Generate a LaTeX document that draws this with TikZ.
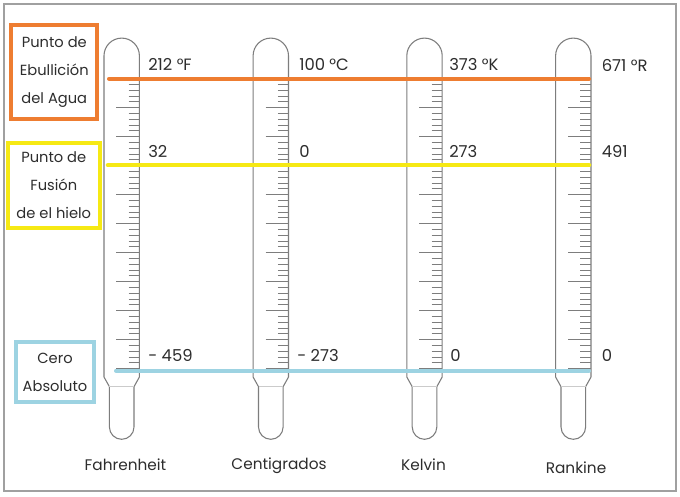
\documentclass[tikz,border=0pt]{standalone}
\usepackage{fontspec}
\setmainfont{Poppins}
\definecolor{ora}{RGB}{238,125,49}
\definecolor{yel}{RGB}{246,233,20}
\definecolor{cya}{RGB}{157,211,226}
\definecolor{thc}{RGB}{125,125,125}
\definecolor{txt}{RGB}{45,45,45}
\definecolor{frc}{RGB}{160,160,160}
\tikzset{
  thermo/.style={draw=thc, line width=0.8pt},
  tick/.style={draw=thc, line width=0.75pt},
  lvl/.style={line width=3pt, line cap=round},
  lbox/.style={draw, line width=3pt, align=center, inner sep=0pt, text=txt,
    font=\fontsize{11}{21}\selectfont},
  val/.style={anchor=base west, inner sep=0pt, text=txt, font=\fontsize{12.3}{14}\selectfont},
  scl/.style={anchor=base, inner sep=0pt, text=txt, font=\fontsize{11.5}{13}\selectfont},
  therm/.pic={
    \draw[thermo] (-17.7,-55.8) arc[start angle=180,end angle=0,radius=17.7]
      -- (17.7,-377) -- (12.3,-386.7) -- (12.3,-427)
      arc[start angle=0,end angle=-180,radius=12.3]
      -- (-12.3,-386.7) -- (-17.7,-377) -- cycle;
    \draw[draw=thc!40, line width=0.5pt] (-12.3,-386.7) -- (12.3,-386.7);
    \foreach \i in {0,...,50}{
      \pgfmathsetmacro\ty{-(78.7+\i*5.8)}
      \pgfmathtruncatemacro\m{mod(\i,5)}
      \ifnum\m=0
        \draw[tick] (-5.3,\ty) -- (17.7,\ty);
      \else
        \draw[tick] (7,\ty) -- (17.7,\ty);
      \fi
    }
  }
}
\begin{document}
\begin{tikzpicture}[x=0.75pt,y=0.75pt]
\useasboundingbox (0,0) rectangle (680,-496);
\fill[white] (0,0) rectangle (680,-496);
\draw[frc, line width=1.5pt] (4,-4) rectangle (676,-490.5);

% thermometers
\pic at (121.7,0) {therm};
\pic at (270.8,0) {therm};
\pic at (424.5,0) {therm};
\pic at (573.3,0) {therm};

% level lines
\coordinate (oA) at (109,-78.7);  \coordinate (oB) at (589,-78.7);
\coordinate (yA) at (108,-165.2); \coordinate (yB) at (589,-165.2);
\coordinate (cA) at (116,-370.5); \coordinate (cB) at (589,-370.5);
\draw[lvl, ora] (oA) -- (oB);
\draw[lvl, yel, line width=3.4pt] (yA) -- (yB);
\draw[lvl, cya] (cA) -- (cB);

% legend boxes
\node[lbox, draw=ora, minimum width=64.5pt, minimum height=70.5pt] (boil) at (54.3,-71.7)
  {Punto de\\Ebullición\\del Agua};
\node[lbox, draw=yel, minimum width=68.8pt, minimum height=64pt] (melt) at (53.8,-185.3)
  {Punto de\\Fusión\\de el hielo};
\node[lbox, draw=cya, minimum width=58.5pt, minimum height=45pt] (zero) at (55,-372)
  {Cero\\Absoluto};

% values
\node[val] (f1) at (148,-70.3) {212 °F};
\node[val] (f2) at (148,-157.3) {32};
\node[val] (f3) at (148,-361.5) {- 459};
\node[val] (c1) at (299,-70.3) {100 °C};
\node[val] (c2) at (299,-157.3) {0};
\node[val] (c3) at (297,-361.5) {- 273};
\node[val] (k1) at (449,-70.3) {373 °K};
\node[val] (k2) at (449,-157.3) {273};
\node[val] (k3) at (450,-361.5) {0};
\node[val] (r1) at (601.5,-71.5) {671 °R};
\node[val] (r2) at (601.5,-157.3) {491};
\node[val] (r3) at (601.5,-361.5) {0};

% scale names
\node[scl] (nf) at (125.5,-470) {Fahrenheit};
\node[scl] (nc) at (279,-469.3) {Centigrados};
\node[scl] (nk) at (423.5,-470.7) {Kelvin};
\node[scl] (nr) at (576,-473.3) {Rankine};
\end{tikzpicture}
\end{document}
